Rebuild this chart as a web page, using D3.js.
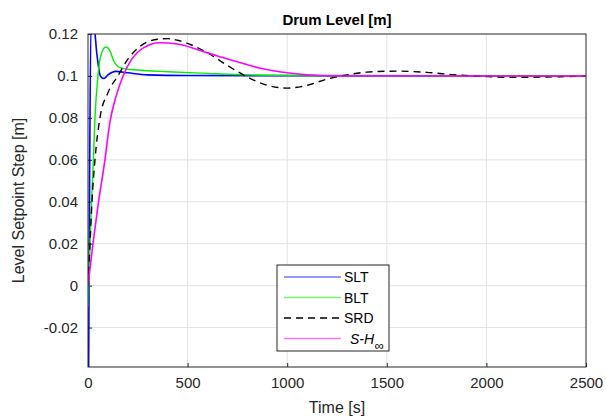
<!DOCTYPE html>
<html>
<head>
<meta charset="utf-8">
<script src="https://cdn.jsdelivr.net/npm/d3@7"></script>
<style>
  body { margin: 0; background: #fff; }
  text { font-family: "Liberation Sans", Arial, sans-serif; }
</style>
</head>
<body>
<script>
// tick values
const xTicks = [0, 500, 1000, 1500, 2000, 2500];
const yTicks = [-0.02, 0, 0.02, 0.04, 0.06, 0.08, 0.1, 0.12];

// series (time [s], level [m])
const sltT = [0, 8, 15, 28, 45, 62, 80, 100, 140, 200, 300, 500, 2500];
const sltV = [-0.1, 0.05, 0.125, 0.125, 0.11, 0.1, 0.0988, 0.1005, 0.1022, 0.1015, 0.1005, 0.1002, 0.1];

const bltT = [0, 5, 10, 20, 27, 35, 50, 65, 90, 110, 130, 150, 180, 250, 400, 600, 800, 1000, 1200, 2500];
const bltV = [-0.01, 0.005, 0.02, 0.045, 0.06, 0.08, 0.1, 0.11, 0.1138, 0.112, 0.107, 0.1045, 0.1035, 0.1028, 0.102, 0.1012, 0.1005, 0.1002, 0.1, 0.1];

const srdT = [0, 10, 20, 35, 60, 100, 150, 200, 260, 350, 400, 450, 500, 600, 700, 800, 900, 1000, 1100, 1200, 1300, 1400, 1550, 1700, 1850, 2000, 2150, 2300, 2500];
const srdV = [0, 0.02, 0.04, 0.06, 0.08, 0.092, 0.1, 0.108, 0.114, 0.1175, 0.1178, 0.117, 0.1155, 0.111, 0.105, 0.0995, 0.0955, 0.0942, 0.0955, 0.0985, 0.1005, 0.1018, 0.1023, 0.1017, 0.1005, 0.0997, 0.0993, 0.0995, 0.0999];

const shT = [0, 10, 25, 50, 85, 110, 140, 176, 220, 280, 360, 450, 550, 650, 750, 860, 1000, 1100, 1250, 2500];
const shV = [0, 0.008, 0.02, 0.038, 0.06, 0.078, 0.09, 0.1, 0.108, 0.1135, 0.1158, 0.1152, 0.1125, 0.1095, 0.1068, 0.1038, 0.1015, 0.1006, 0.1, 0.1];

const series = [
  { name: "SLT", t: sltT, v: sltV, color: "#0000ff", dash: null, width: 1.6 },
  { name: "BLT", t: bltT, v: bltV, color: "#00ee00", dash: null, width: 1.4 },
  { name: "SRD", t: srdT, v: srdV, color: "#000000", dash: "7,5", width: 1.4 },
  { name: "S-H", t: shT, v: shV, color: "#ff00ff", dash: null, width: 1.6 }
];

const W = 606, H = 420;
const margin = { left: 88, right: 20, top: 34, bottom: 53 };

const x = d3.scaleLinear().domain([0, 2500]).range([margin.left, W - margin.right]);
const y = d3.scaleLinear().domain([-0.0388, 0.12]).range([H - margin.bottom, margin.top]);

const svg = d3.select("body").append("svg")
  .attr("width", W).attr("height", H);

// grid
svg.append("g").selectAll("line").data(xTicks.slice(1, -1)).join("line")
  .attr("x1", d => x(d)).attr("x2", d => x(d))
  .attr("y1", y.range()[0]).attr("y2", y.range()[1])
  .attr("stroke", "#e3e3e3").attr("stroke-width", 1);
svg.append("g").selectAll("line").data(yTicks.slice(0, -1)).join("line")
  .attr("x1", x.range()[0]).attr("x2", x.range()[1])
  .attr("y1", d => y(d)).attr("y2", d => y(d))
  .attr("stroke", "#e3e3e3").attr("stroke-width", 1);

// axes
const fmtY = d => d === 0 ? "0" : String(+d.toFixed(2));
svg.append("g")
  .attr("transform", `translate(0,${y.range()[0]})`)
  .call(d3.axisBottom(x).tickValues(xTicks).tickSize(-4).tickPadding(10).tickFormat(d3.format("d")))
  .call(g => g.select(".domain").remove())
  .call(g => g.selectAll("line").attr("stroke", "#262626"))
  .call(g => g.selectAll("text").attr("fill", "#262626").attr("font-size", 15)
    .style("font-family", "'Liberation Sans', Arial, sans-serif"));

svg.append("g")
  .attr("transform", `translate(${x.range()[0]},0)`)
  .call(d3.axisLeft(y).tickValues(yTicks).tickSize(-4).tickPadding(10).tickFormat(fmtY))
  .call(g => g.select(".domain").remove())
  .call(g => g.selectAll("line").attr("stroke", "#262626"))
  .call(g => g.selectAll("text").attr("fill", "#262626").attr("font-size", 15)
    .style("font-family", "'Liberation Sans', Arial, sans-serif"));

// clip
svg.append("clipPath").attr("id", "clip").append("rect")
  .attr("x", x.range()[0]).attr("y", y.range()[1])
  .attr("width", x.range()[1] - x.range()[0]).attr("height", y.range()[0] - y.range()[1]);

const line = d3.line().curve(d3.curveMonotoneX).x(d => x(d[0])).y(d => y(d[1]));

const plot = svg.append("g").attr("clip-path", "url(#clip)");
series.forEach(s => {
  plot.append("path")
    .datum(s.t.map((t, i) => [t, s.v[i]]))
    .attr("d", line)
    .attr("fill", "none")
    .attr("stroke", s.color)
    .attr("stroke-width", s.width)
    .attr("stroke-dasharray", s.dash);
});

// box
svg.append("rect")
  .attr("x", x.range()[0]).attr("y", y.range()[1])
  .attr("width", x.range()[1] - x.range()[0]).attr("height", y.range()[0] - y.range()[1])
  .attr("fill", "none").attr("stroke", "#262626").attr("stroke-width", 1);

// title and labels
svg.append("text").attr("x", (x.range()[0] + x.range()[1]) / 2).attr("y", 25)
  .attr("text-anchor", "middle").attr("font-weight", "bold").attr("font-size", 15)
  .attr("fill", "#000").text("Drum Level [m]");
svg.append("text").attr("x", (x.range()[0] + x.range()[1]) / 2).attr("y", 413)
  .attr("text-anchor", "middle").attr("font-size", 16).attr("fill", "#262626").text("Time [s]");
svg.append("text")
  .attr("transform", `translate(24,${(y.range()[0] + y.range()[1]) / 2}) rotate(-90)`)
  .attr("text-anchor", "middle").attr("font-size", 16).attr("fill", "#262626")
  .text("Level Setpoint Step [m]");

// legend
const lg = svg.append("g").attr("transform", "translate(277,265)");
lg.append("rect").attr("width", 112).attr("height", 86)
  .attr("fill", "#fff").attr("stroke", "#262626").attr("stroke-width", 1);
series.forEach((s, i) => {
  const yy = 12 + i * 20.5;
  lg.append("line").attr("x1", 7).attr("x2", 64).attr("y1", yy).attr("y2", yy)
    .attr("stroke", s.color).attr("stroke-opacity", s.dash ? 1 : 0.55)
    .attr("stroke-width", 1.4).attr("stroke-dasharray", s.dash);
  const t = lg.append("text").attr("x", 67).attr("y", yy + 5).attr("font-size", 14).attr("fill", "#000");
  if (s.name === "S-H") {
    t.attr("x", 73);
    t.append("tspan").attr("font-style", "italic").text("S-H");
    t.append("tspan").attr("font-style", "italic").attr("font-size", 13).attr("dy", 6).text("\u221E");
  } else {
    t.text(s.name);
  }
});
</script>
</body>
</html>
